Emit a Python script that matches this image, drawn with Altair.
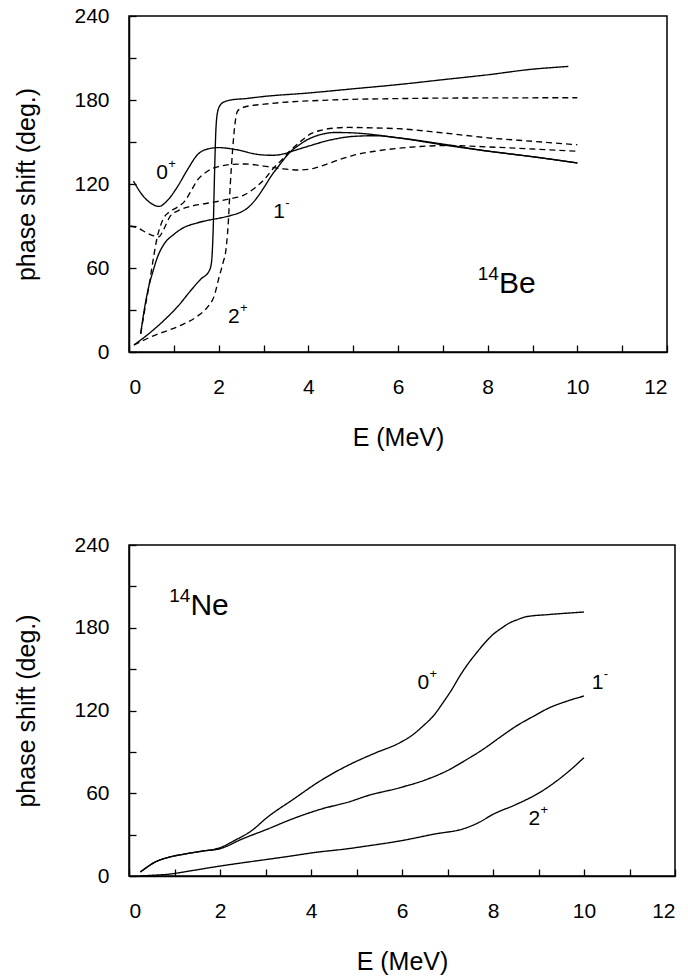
import altair as alt
import pandas as pd

FONT = "Liberation Sans"

# ---------------- 14Be panel data ----------------
be_0p_solid_x = [0.1, 0.3, 0.5, 0.67, 0.85, 1.08, 1.3, 1.53, 1.75, 2.0, 2.4, 2.9, 3.2, 3.45, 3.6, 4.0, 4.5, 5.0, 5.5, 6.0, 7.0, 8.0, 8.5, 9.0, 10.0]
be_0p_solid_y = [122, 112, 106, 104, 108, 118, 130, 141, 145, 146, 144.5, 141, 140.5, 141.5, 143, 147, 151.5, 154, 154.5, 153, 148.5, 143.5, 141.5, 139.5, 135]

be_1m_solid_x = [0.26, 0.35, 0.45, 0.52, 0.65, 0.78, 1.0, 1.23, 1.5, 1.75, 2.0, 2.27, 2.5, 2.65, 2.85, 3.02, 3.2, 3.32, 3.45, 3.6, 3.8, 4.0, 4.3, 4.6, 5.0, 6.0, 7.0, 8.0, 8.5, 9.0, 10.0]
be_1m_solid_y = [13, 32, 48, 56, 69, 77, 84, 89, 92, 94, 95.5, 97.5, 100, 103, 110, 118, 127, 132, 137.5, 143, 148, 152, 155.5, 156.8, 156.5, 153, 148, 143.5, 141.5, 139.5, 135]

be_2p_solid_x = [0.11, 0.4, 0.78, 1.1, 1.38, 1.6, 1.79, 1.84, 1.88, 1.91, 1.94, 1.98, 2.05, 2.15, 2.27, 2.6, 3.0, 4.0, 5.0, 6.0, 7.0, 8.0, 9.0, 9.5, 9.8]
be_2p_solid_y = [5, 12, 22.6, 33, 44, 52, 58, 64, 90, 130, 160, 172, 177, 179, 180, 181, 182.5, 185, 188, 191, 194.5, 198, 202, 203.3, 204]

be_0p_dash_x = [0.03, 0.2, 0.4, 0.55, 0.66, 0.78, 0.92, 1.1, 1.37, 1.6, 1.89, 2.26, 2.56, 2.8, 3.01, 3.23, 3.4, 3.6, 3.85, 4.06, 4.3, 4.6, 4.9, 5.5, 6.0, 7.0, 8.0, 9.0, 10.0]
be_0p_dash_y = [90, 88.5, 85, 83, 82.2, 88, 97, 101, 104, 105.5, 107, 109.5, 112, 117, 123, 131.6, 137, 144, 151, 156, 158.5, 160, 160.4, 160, 159.5, 156.5, 153, 150.5, 148]

be_1m_dash_x = [0.26, 0.35, 0.45, 0.55, 0.63, 0.7, 0.78, 0.9, 1.08, 1.25, 1.4, 1.52, 1.7, 1.85, 2.0, 2.3, 2.6, 3.0, 3.4, 3.8, 4.1, 4.4, 4.7, 5.0, 5.5, 6.0, 6.5, 7.1, 8.0, 9.0, 10.0]
be_1m_dash_y = [13, 30, 48, 68, 82, 90, 96, 100, 103.5, 108, 116, 122.5, 128, 131, 132.5, 134, 134.3, 132.8, 131, 130, 131, 134, 137.5, 140.5, 143.5, 145.5, 146.8, 147.5, 146.5, 145, 143.4]

be_2p_dash_x = [0.11, 0.5, 1.15, 1.5, 1.75, 1.9, 2.01, 2.1, 2.16, 2.21, 2.26, 2.31, 2.36, 2.42, 2.5, 2.57, 3.02, 4.5, 6.0, 8.0, 10.0]
be_2p_dash_y = [5, 11, 19, 25, 32, 40, 53.5, 64, 72.5, 90, 120, 143.8, 162, 172, 174, 175, 177, 180, 181, 181.5, 181.6]

be_label_text = ["0", "1", "2"]
be_label_sup = ["+", "-", "+"]
be_label_x = [0.74, 3.35, 2.34]
be_label_y = [128, 100, 25]

# ---------------- 14Ne panel data ----------------
ne_0p_x = [0.25, 0.4, 0.55, 0.84, 1.2, 1.6, 2.0, 2.3, 2.7, 3.03, 3.61, 4.2, 4.86, 5.4, 5.95, 6.2, 6.46, 6.7, 6.9, 7.1, 7.27, 7.45, 7.64, 7.82, 8.0, 8.2, 8.37, 8.55, 8.73, 9.24, 10.0]
ne_0p_y = [2.9, 6.5, 9.7, 13.3, 15.8, 18, 20.5, 25.4, 33, 42.3, 55.6, 68.9, 81, 89, 96.6, 101.5, 108.7, 116.5, 125.6, 135.5, 145, 153.8, 161.9, 169, 175.1, 180, 183.6, 186, 188, 189.6, 191.4]

ne_1m_x = [0.25, 0.4, 0.55, 0.84, 1.2, 1.6, 2.0, 2.5, 3.03, 3.6, 4.2, 4.86, 5.22, 5.95, 6.5, 7.05, 7.4, 7.78, 8.15, 8.51, 8.9, 9.24, 9.6, 10.0]
ne_1m_y = [2.9, 6.5, 9.7, 13.3, 15.8, 18, 19.8, 27, 33.8, 41.5, 48.3, 54, 58, 64, 69.5, 77.3, 84, 91.8, 100.5, 108.7, 116, 122, 126.5, 130.5]

ne_2p_x = [0.25, 0.5, 0.84, 1.4, 2.0, 2.5, 3.03, 3.5, 4.05, 4.86, 5.22, 5.95, 6.68, 7.42, 7.7, 8.0, 8.51, 9.02, 9.54, 10.0]
ne_2p_y = [0, 0.5, 1.2, 4, 7.2, 9.6, 12, 14.2, 16.9, 20, 21.7, 25.4, 30.2, 35, 39, 44.7, 51.9, 60.4, 72.5, 85.8]

ne_label_text = ["0", "1", "2"]
ne_label_sup = ["+", "-", "+"]
ne_label_x = [6.47, 10.3, 8.91]
ne_label_y = [140, 140, 41]

x_ticks_major = [0, 2, 4, 6, 8, 10, 12]
x_ticks_all = list(range(0, 13))
y_ticks_major = [0, 60, 120, 180, 240]
y_ticks_all = list(range(0, 241, 30))


def long_df(series):
    rows = []
    for name, style, xs, ys in series:
        for xv, yv in zip(xs, ys):
            rows.append({"E": xv, "phase": yv, "curve": name, "style": style})
    return pd.DataFrame(rows)


be_df = long_df([
    ("0+ a", "solid", be_0p_solid_x, be_0p_solid_y),
    ("1- a", "solid", be_1m_solid_x, be_1m_solid_y),
    ("2+ a", "solid", be_2p_solid_x, be_2p_solid_y),
    ("0+ b", "dashed", be_0p_dash_x, be_0p_dash_y),
    ("1- b", "dashed", be_1m_dash_x, be_1m_dash_y),
    ("2+ b", "dashed", be_2p_dash_x, be_2p_dash_y),
])
ne_df = long_df([
    ("0+", "solid", ne_0p_x, ne_0p_y),
    ("1-", "solid", ne_1m_x, ne_1m_y),
    ("2+", "solid", ne_2p_x, ne_2p_y),
])

be_lab = pd.DataFrame({"E": be_label_x, "phase": be_label_y, "text": be_label_text, "sup": be_label_sup})
ne_lab = pd.DataFrame({"E": ne_label_x, "phase": ne_label_y, "text": ne_label_text, "sup": ne_label_sup})
be_nuc = pd.DataFrame({"E": [8.25], "phase": [42], "text": ["Be"], "sup": ["14"]})
ne_nuc = pd.DataFrame({"E": [1.35], "phase": [189], "text": ["Ne"], "sup": ["14"]})


def panel(df, lab, nuc, width, height):
    xs = alt.Scale(domain=[0, 12], nice=False, zero=False)
    ys = alt.Scale(domain=[0, 240], nice=False, zero=False)
    x_main = alt.X("E:Q", scale=xs, axis=alt.Axis(values=x_ticks_major, title="E (MeV)", ticks=False, tickSize=0,
                                                  labelPadding=24, titlePadding=28, grid=False, format="d"))
    y_main = alt.Y("phase:Q", scale=ys, axis=alt.Axis(values=y_ticks_major, title="phase shift (deg.)", ticks=False,
                                                      tickSize=0, labelPadding=20, titlePadding=34, grid=False, format="d"))
    lines = alt.Chart(df).mark_line(interpolate="monotone", color="black", strokeWidth=1.35).encode(
        x=x_main, y=y_main, detail="curve:N",
        strokeDash=alt.StrokeDash("style:N", scale=alt.Scale(domain=["solid", "dashed"], range=[[1, 0], [6, 4]]),
                                  legend=None),
    )
    base_txt = alt.Chart(lab).mark_text(font=FONT, fontSize=21, color="black", align="center",
                                        baseline="middle").encode(x=x_main, y=y_main, text="text:N")
    sup_txt = alt.Chart(lab).mark_text(font=FONT, fontSize=13, color="black", align="left", baseline="middle",
                                       dx=6, dy=-9).encode(x=x_main, y=y_main, text="sup:N")
    nuc_txt = alt.Chart(nuc).mark_text(font=FONT, fontSize=30, color="black", align="left",
                                       baseline="alphabetic").encode(x=x_main, y=y_main, text="text:N")
    nuc_sup = alt.Chart(nuc).mark_text(font=FONT, fontSize=19, color="black", align="right", baseline="alphabetic",
                                       dx=0, dy=-13).encode(x=x_main, y=y_main, text="sup:N")
    inner = alt.layer(lines, base_txt, sup_txt, nuc_txt, nuc_sup)
    ticks = alt.Chart(df).mark_point(opacity=0).encode(
        x=alt.X("E:Q", scale=alt.Scale(domain=[0, 12], nice=False, zero=False),
                axis=alt.Axis(orient="top", offset=-height, values=x_ticks_all, labels=False, domain=False,
                              tickSize=7, tickColor="black", tickWidth=1.3, title="", grid=False)),
        y=alt.Y("phase:Q", scale=alt.Scale(domain=[0, 240], nice=False, zero=False),
                axis=alt.Axis(orient="right", offset=-width, values=y_ticks_all, labels=False, domain=False,
                              tickSize=7, tickColor="black", tickWidth=1.3, title="", grid=False)),
    )
    return alt.layer(inner, ticks).resolve_scale(x="independent", y="independent").properties(
        width=width, height=height)


top = panel(be_df, be_lab, be_nuc, 538, 336)
bottom = panel(ne_df, ne_lab, ne_nuc, 546, 331)

chart = alt.vconcat(top, bottom, spacing=82).properties(
    padding={"left": 14, "top": 4, "right": 4, "bottom": 4}
).configure_view(stroke="black", strokeWidth=1.5).configure_axis(
    labelFont=FONT, titleFont=FONT, labelFontSize=21, titleFontSize=25, labelColor="black", titleColor="black",
    titleFontWeight="normal", domainColor="black", domainWidth=1.5,
)

chart.save("out.html", embed_options={"renderer": "svg", "actions": False})
